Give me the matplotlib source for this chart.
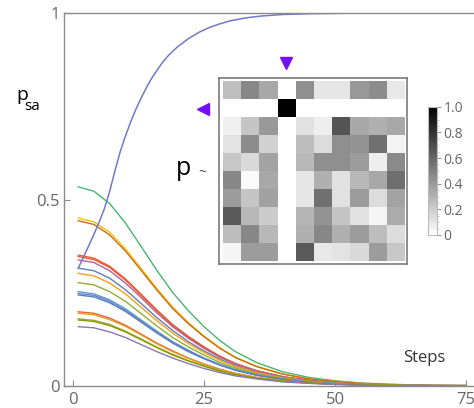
"""Plot the p_sa curves over steps with the transition-matrix inset."""

import numpy as np
import matplotlib
from matplotlib import pyplot as plt
from matplotlib.colors import LinearSegmentedColormap


# =============================================================================
# Data
# =============================================================================
steps = [1, 4, 7, 10, 13, 16, 19, 22, 25, 28, 31, 35, 40, 45, 50, 55, 60, 67, 75]

# Decaying p_sa curves (one list per state-action pair)
p_green = [0.534, 0.522, 0.489, 0.437, 0.374, 0.310, 0.251, 0.202, 0.159, 0.122,
	0.092, 0.063, 0.038, 0.023, 0.014, 0.008, 0.005, 0.002, 0.001]
p_yellow = [0.450, 0.440, 0.412, 0.368, 0.315, 0.261, 0.212, 0.170, 0.134, 0.103,
	0.077, 0.053, 0.032, 0.019, 0.012, 0.007, 0.004, 0.002, 0.001]
p_brown = [0.443, 0.433, 0.405, 0.362, 0.310, 0.257, 0.208, 0.167, 0.132, 0.101,
	0.076, 0.052, 0.032, 0.019, 0.012, 0.007, 0.004, 0.002, 0.001]
p_red_a = [0.351, 0.343, 0.321, 0.287, 0.246, 0.204, 0.165, 0.133, 0.105, 0.080,
	0.060, 0.041, 0.025, 0.015, 0.009, 0.005, 0.003, 0.001, 0.001]
p_red_b = [0.347, 0.339, 0.318, 0.284, 0.243, 0.201, 0.163, 0.131, 0.103, 0.079,
	0.060, 0.041, 0.025, 0.015, 0.009, 0.005, 0.003, 0.001, 0.001]
p_magenta = [0.338, 0.331, 0.309, 0.276, 0.237, 0.196, 0.159, 0.128, 0.101, 0.077,
	0.058, 0.040, 0.024, 0.015, 0.009, 0.005, 0.003, 0.001, 0.001]
p_blue_a = [0.316, 0.309, 0.289, 0.258, 0.221, 0.183, 0.149, 0.119, 0.094, 0.072,
	0.054, 0.037, 0.023, 0.014, 0.008, 0.005, 0.003, 0.001, 0.001]
p_orange_a = [0.302, 0.295, 0.276, 0.247, 0.211, 0.175, 0.142, 0.114, 0.090, 0.069,
	0.052, 0.036, 0.022, 0.013, 0.008, 0.005, 0.003, 0.001, 0.001]
p_olive_a = [0.277, 0.271, 0.253, 0.227, 0.194, 0.161, 0.130, 0.105, 0.083, 0.063,
	0.048, 0.033, 0.020, 0.012, 0.007, 0.004, 0.002, 0.001, 0.001]
p_blue_b = [0.253, 0.247, 0.231, 0.207, 0.177, 0.147, 0.119, 0.096, 0.075, 0.058,
	0.044, 0.030, 0.018, 0.011, 0.007, 0.004, 0.002, 0.001, 0.001]
p_blue_c = [0.248, 0.243, 0.227, 0.203, 0.174, 0.144, 0.117, 0.094, 0.074, 0.057,
	0.043, 0.029, 0.018, 0.011, 0.006, 0.004, 0.002, 0.001, 0.000]
p_blue_d = [0.244, 0.239, 0.223, 0.200, 0.171, 0.142, 0.115, 0.092, 0.073, 0.056,
	0.042, 0.029, 0.018, 0.010, 0.006, 0.004, 0.002, 0.001, 0.000]
p_red_c = [0.199, 0.195, 0.182, 0.163, 0.139, 0.115, 0.094, 0.075, 0.059, 0.045,
	0.034, 0.023, 0.014, 0.009, 0.005, 0.003, 0.002, 0.001, 0.000]
p_orange_b = [0.195, 0.191, 0.178, 0.160, 0.137, 0.113, 0.092, 0.074, 0.058, 0.044,
	0.034, 0.023, 0.014, 0.008, 0.005, 0.003, 0.002, 0.001, 0.000]
p_green_b = [0.180, 0.176, 0.165, 0.147, 0.126, 0.104, 0.085, 0.068, 0.054, 0.041,
	0.031, 0.021, 0.013, 0.008, 0.005, 0.003, 0.002, 0.001, 0.000]
p_olive_b = [0.177, 0.173, 0.162, 0.145, 0.124, 0.103, 0.083, 0.067, 0.053, 0.040,
	0.030, 0.021, 0.013, 0.008, 0.005, 0.003, 0.002, 0.001, 0.000]
p_purple = [0.159, 0.156, 0.145, 0.130, 0.111, 0.092, 0.075, 0.060, 0.047, 0.036,
	0.027, 0.019, 0.011, 0.007, 0.004, 0.002, 0.001, 0.001, 0.000]

# Rising p_sa curve (the rewarded state-action pair)
rise_steps = [1, 2, 3, 4, 5, 6, 7, 8, 9, 10, 11, 12, 13, 14, 15, 16, 17, 18, 19,
	20, 22, 24, 26, 28, 30, 33, 36, 40, 45, 50, 55, 60, 67, 75]
p_rising = [0.316, 0.346, 0.376, 0.407, 0.440, 0.476, 0.522, 0.577, 0.628, 0.670,
	0.708, 0.742, 0.772, 0.800, 0.825, 0.846, 0.866, 0.883, 0.897, 0.910, 0.931,
	0.948, 0.961, 0.971, 0.979, 0.987, 0.992, 0.996, 0.998, 0.999, 1.000, 1.000,
	1.000, 1.000]

decay_curves = [p_green, p_yellow, p_brown, p_red_a, p_red_b, p_magenta,
	p_blue_a, p_orange_a, p_olive_a, p_blue_b, p_blue_c, p_blue_d, p_red_c,
	p_orange_b, p_green_b, p_olive_b, p_purple]
decay_colors = ['#47B66D', '#FFBF00', '#C56E1A', '#EB6235', '#E95536',
	'#B8608F', '#5E81B5', '#F89F13', '#8FB032', '#5D9EC7', '#6685D9',
	'#5E81B5', '#EB6235', '#E19C24', '#8FB032', '#929600', '#8778B3']

# Inset transition matrix
p_matrix = np.array([
	[0.25, 0.47, 0.34, 0.00, 0.44, 0.10, 0.10, 0.40, 0.45, 0.09],
	[0.00, 0.00, 0.00, 1.00, 0.00, 0.00, 0.00, 0.00, 0.00, 0.00],
	[0.06, 0.23, 0.40, 0.00, 0.12, 0.07, 0.67, 0.34, 0.31, 0.34],
	[0.11, 0.45, 0.18, 0.00, 0.26, 0.14, 0.44, 0.42, 0.56, 0.05],
	[0.22, 0.15, 0.36, 0.00, 0.28, 0.44, 0.44, 0.39, 0.07, 0.46],
	[0.47, 0.02, 0.34, 0.00, 0.10, 0.31, 0.12, 0.28, 0.34, 0.57],
	[0.39, 0.23, 0.37, 0.00, 0.10, 0.56, 0.12, 0.39, 0.14, 0.36],
	[0.65, 0.28, 0.20, 0.00, 0.29, 0.42, 0.23, 0.12, 0.04, 0.33],
	[0.26, 0.47, 0.28, 0.00, 0.31, 0.47, 0.31, 0.39, 0.26, 0.14],
	[0.04, 0.39, 0.39, 0.00, 0.65, 0.09, 0.11, 0.15, 0.39, 0.22]])
marked_col = 3
marked_row = 1
cbar_ticks = [0, 0.2, 0.4, 0.6, 0.8, 1.0]
cbar_labels = ['0', '0.2', '0.4', '0.6', '0.8', '1.0']


# =============================================================================
# Plot parameters
# =============================================================================
matplotlib.rcParams['font.family'] = ['Open Sans', 'DejaVu Sans']
matplotlib.rcParams['font.size'] = 12
axis_gray = '#8a8a8a'
label_gray = '#666666'


# =============================================================================
# Main plot
# =============================================================================
fig = plt.figure(figsize=(4.74, 4.08), dpi=100)
ax = fig.add_axes([64/474, 22/408, 1 - 64/474, 373/408])

for vals, col in zip(decay_curves, decay_colors):
	ax.plot(steps, vals, color=col, linewidth=1.0)
ax.plot(rise_steps, p_rising, color='#6E7BC8', linewidth=1.1)

ax.set_xlim(-1.72, 76.5)
ax.set_ylim(0, 1)
ax.set_xticks([0, 25, 50, 75])
ax.set_yticks([0, 0.5, 1])
ax.set_yticklabels(['0', '0.5', '1'])
ax.tick_params(direction='in', length=4, color=axis_gray, labelcolor=label_gray,
	labelsize=12, pad=3)
ax.tick_params(axis='x', pad=4)
for side in ['left', 'bottom', 'top']:
	ax.spines[side].set_color(axis_gray)
	ax.spines[side].set_linewidth(1.0)
ax.spines['right'].set_visible(False)

# Axis labels placed as in the original
fig.text(16.7/474, 1 - 100/408, 'p', fontsize=14, ha='left', va='baseline')
fig.text(24.5/474, 1 - 110/408, 'sa', fontsize=11, ha='left', va='baseline')
fig.text(424/474, 1 - 358/408, 'Steps', fontsize=12, color='#333333',
	ha='center', va='center')
fig.text(176/474, 1 - 175/408, 'p', fontsize=18, ha='left', va='baseline')
fig.text(202/474, 1 - 172/408, '~', fontsize=10, color='#444444', ha='center',
	va='center')


# =============================================================================
# Inset heatmap
# =============================================================================
cmap = LinearSegmentedColormap.from_list('graytones', ['#ffffff', '#000000'])
axin = fig.add_axes([219.3/474, 1 - 264.3/408, 188/474, 186/408])
im = axin.imshow(p_matrix, cmap=cmap, vmin=0, vmax=1, aspect='auto')
axin.set_xlim(-0.69, 9.69)
axin.set_ylim(9.69, -0.69)
axin.set_xticks([])
axin.set_yticks([])
for side in axin.spines:
	axin.spines[side].set_color('#7a7a7a')
	axin.spines[side].set_linewidth(1.2)

# Markers for the selected row and column
axin.plot([marked_col], [-1.55], marker='v', color='#7411F2', markersize=9,
	linestyle='none', clip_on=False)
axin.plot([-1.58], [marked_row], marker='<', color='#7411F2', markersize=9,
	linestyle='none', clip_on=False)

# Colorbar
cax = fig.add_axes([427.7/474, 1 - 235/408, 9/474, 128.3/408])
cbar = fig.colorbar(im, cax=cax)
cbar.set_ticks(cbar_ticks)
cbar.set_ticklabels(cbar_labels)
cbar.ax.set_yticks(np.arange(0, 1.001, 0.05), minor=True)
cbar.ax.tick_params(which='major', length=3, width=0.8, color='#999999',
	labelcolor=label_gray, labelsize=10, pad=2)
cbar.ax.tick_params(which='minor', length=1.5, width=0.6, color='#bbbbbb')
cbar.outline.set_edgecolor('#bbbbbb')
cbar.outline.set_linewidth(0.8)

plt.savefig('out.png', dpi=100)
